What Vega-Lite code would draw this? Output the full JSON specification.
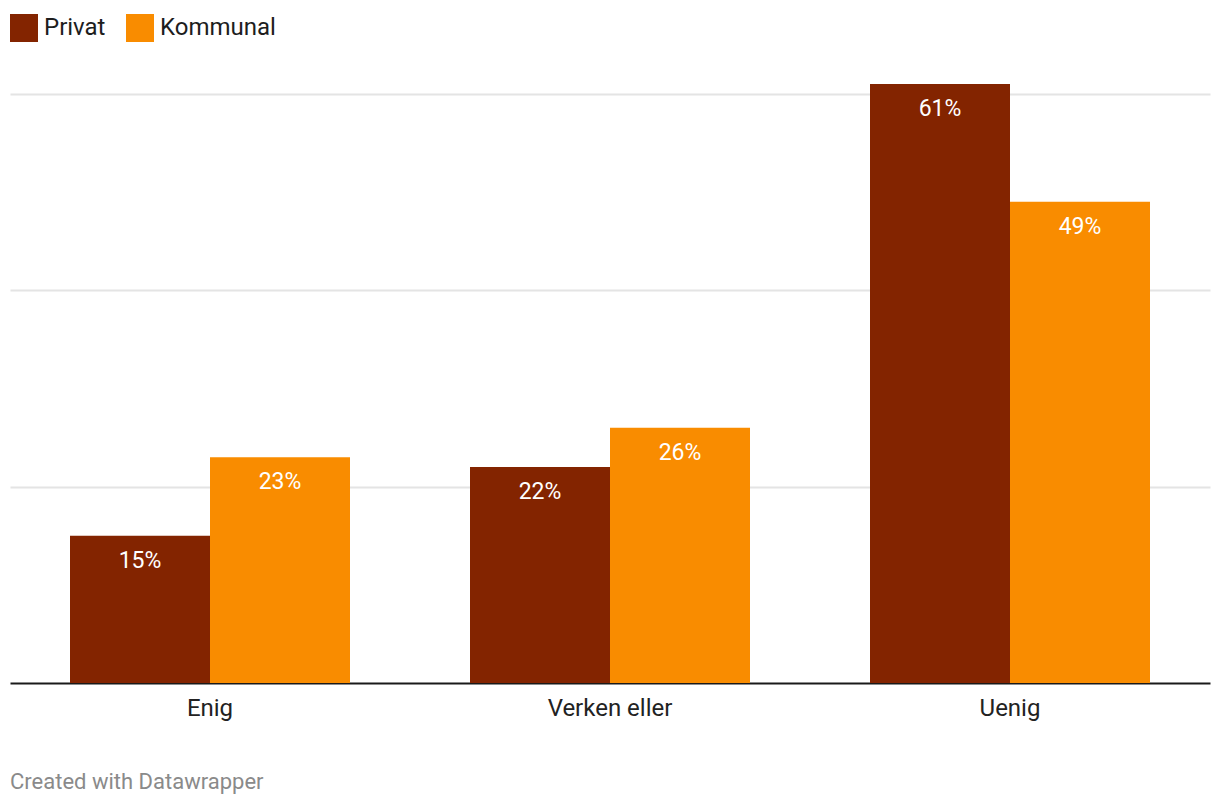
{
  "$schema": "https://vega.github.io/schema/vega-lite/v6.json",
  "width": 1200,
  "height": 599,
  "autosize": {"type": "none"},
  "padding": {"left": 10, "top": 84, "right": 10, "bottom": 123},
  "background": "white",
  "config": {
    "font": "Roboto",
    "view": {"stroke": null}
  },
  "title": {
    "text": "Created with Datawrapper",
    "orient": "bottom",
    "anchor": "start",
    "frame": "group",
    "font": "Roboto",
    "fontSize": 22,
    "fontWeight": "normal",
    "color": "#8a8a8a",
    "offset": 52
  },
  "data": {
    "values": [
      {"kategori": "Enig", "gruppe": "Privat", "verdi": 15, "etikett": "15%"},
      {"kategori": "Enig", "gruppe": "Kommunal", "verdi": 23, "etikett": "23%"},
      {"kategori": "Verken eller", "gruppe": "Privat", "verdi": 22, "etikett": "22%"},
      {"kategori": "Verken eller", "gruppe": "Kommunal", "verdi": 26, "etikett": "26%"},
      {"kategori": "Uenig", "gruppe": "Privat", "verdi": 61, "etikett": "61%"},
      {"kategori": "Uenig", "gruppe": "Kommunal", "verdi": 49, "etikett": "49%"}
    ]
  },
  "encoding": {
    "x": {
      "field": "kategori",
      "type": "nominal",
      "sort": ["Enig", "Verken eller", "Uenig"],
      "scale": {"paddingInner": 0.3, "paddingOuter": 0.15},
      "axis": {
        "title": null,
        "labelAngle": 0,
        "labelFontSize": 24,
        "labelColor": "#222222",
        "labelFont": "Roboto",
        "labelPadding": 13,
        "ticks": false,
        "domainColor": "#1a1a1a",
        "domainWidth": 2,
        "grid": false
      }
    },
    "xOffset": {
      "field": "gruppe",
      "type": "nominal",
      "sort": ["Privat", "Kommunal"],
      "scale": {"paddingInner": 0, "paddingOuter": 0}
    },
    "y": {
      "field": "verdi",
      "type": "quantitative",
      "scale": {"domain": [0, 61], "nice": false},
      "axis": {
        "title": null,
        "labels": false,
        "ticks": false,
        "domain": false,
        "values": [20, 40, 60],
        "grid": true,
        "gridColor": "#e4e4e4",
        "gridWidth": 2
      }
    }
  },
  "layer": [
    {
      "mark": {"type": "bar"},
      "encoding": {
        "color": {
          "field": "gruppe",
          "type": "nominal",
          "sort": ["Privat", "Kommunal"],
          "scale": {"domain": ["Privat", "Kommunal"], "range": ["#832400", "#f98c00"]},
          "legend": {
            "title": null,
            "orient": "none",
            "direction": "horizontal",
            "legendX": 0,
            "legendY": -70,
            "symbolType": "square",
            "symbolSize": 784,
            "symbolStrokeWidth": 0,
            "symbolOpacity": 1,
            "labelFontSize": 24,
            "labelFont": "Roboto",
            "labelColor": "#1d1d1d",
            "labelOffset": 6,
            "columnPadding": 20
          }
        }
      }
    },
    {
      "mark": {
        "type": "text",
        "baseline": "middle",
        "align": "center",
        "dy": 25,
        "fontSize": 23,
        "font": "Roboto",
        "color": "white"
      },
      "encoding": {
        "text": {"field": "etikett", "type": "nominal"}
      }
    }
  ]
}
